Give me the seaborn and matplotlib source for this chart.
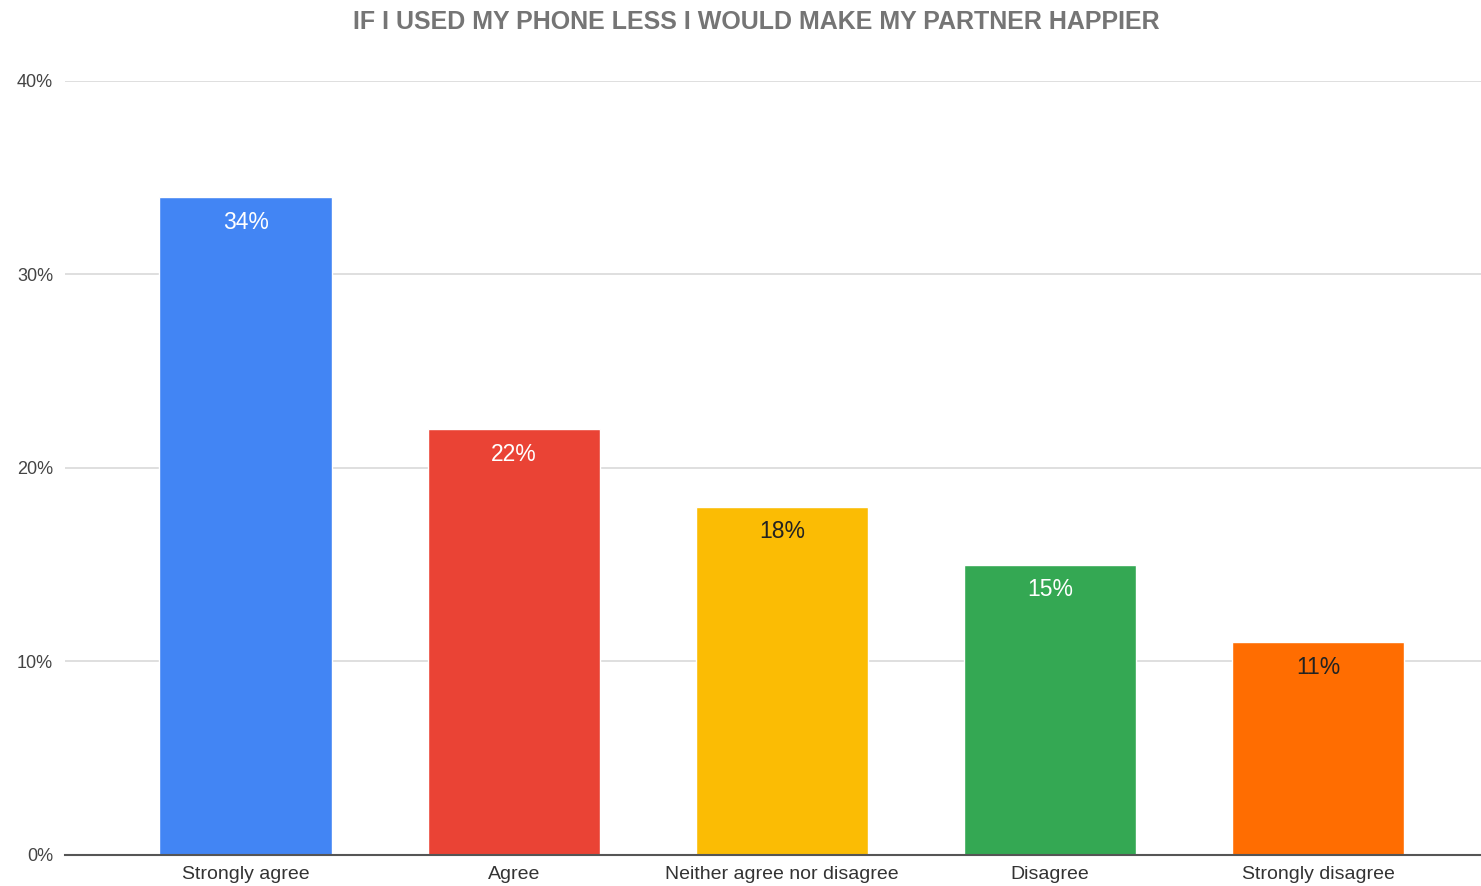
import matplotlib
matplotlib.use("Agg")
import matplotlib.pyplot as plt
import seaborn as sns
import pandas as pd

categories = ["Strongly agree", "Agree", "Neither agree nor disagree", "Disagree", "Strongly disagree"]
values = [34, 22, 18, 15, 11]
bar_colors = ["#4285F4", "#EA4335", "#FBBC04", "#34A853", "#FF6D01"]
label_colors = ["white", "white", "#222222", "white", "#222222"]
y_ticks = [0, 10, 20, 30, 40]
y_tick_labels = ["0%", "10%", "20%", "30%", "40%"]
title = "IF I USED MY PHONE LESS I WOULD MAKE MY PARTNER HAPPIER"

sns.set_theme(style="white")
plt.rcParams["font.family"] = ["Liberation Sans", "DejaVu Sans"]

df = pd.DataFrame({"category": categories, "value": values})

fig = plt.figure(figsize=(14.81, 8.86), dpi=100)
ax = fig.add_axes([0.0439, 0.035, 0.9561, 0.8736])

sns.barplot(data=df, x="category", y="value", hue="category", palette=bar_colors,
            order=categories, hue_order=categories, legend=False, width=0.645,
            saturation=1, ax=ax, zorder=3)

ax.set_ylim(0, 40)
ax.set_xlim(-0.675, 4.608)
ax.set_yticks(y_ticks)
ax.set_yticklabels(y_tick_labels, fontsize=13, color="#444444")
ax.tick_params(axis="y", length=0, pad=8.5)
ax.tick_params(axis="x", length=0, pad=8, labelsize=14, labelcolor="#333333")
ax.set_xlabel("")
ax.set_ylabel("")
ax.yaxis.grid(True, color="#d9d9d9", linewidth=1.2, zorder=0)
ax.xaxis.grid(False)
for s in ["top", "right", "left"]:
    ax.spines[s].set_visible(False)
ax.spines["bottom"].set_color("#555555")
ax.spines["bottom"].set_linewidth(1.5)
ax.spines["bottom"].set_zorder(4)

for i, (v, c) in enumerate(zip(values, label_colors)):
    ax.annotate(f"{v}%", xy=(i, v), xytext=(0, -18), textcoords="offset points",
                ha="center", va="center", fontsize=16.5, color=c, zorder=5)

fig.text(0.511, 0.975, title, ha="center", va="center", fontsize=18,
         fontweight="bold", color="#757575")

fig.savefig("out.png", dpi=100)
